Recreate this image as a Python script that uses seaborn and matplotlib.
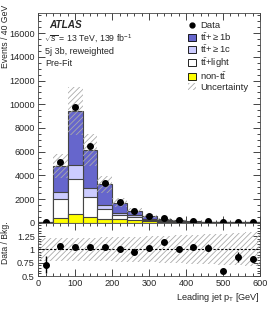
import numpy as np
import pandas as pd
import matplotlib
matplotlib.use("Agg")
import matplotlib.pyplot as plt
from matplotlib.patches import Patch
from matplotlib.lines import Line2D
from matplotlib.ticker import MultipleLocator, FixedLocator
import seaborn as sns

# ---------------- data ----------------
bin_edges = list(range(0, 640, 40))
bin_centers = [e + 20 for e in bin_edges[:-1]]

nontt = [5, 370, 720, 510, 350, 280, 210, 120, 70, 45, 35, 22, 17, 12, 10]
tt_light = [10, 1630, 2940, 1670, 790, 370, 280, 150, 85, 55, 40, 27, 20, 15, 12]
tt_1c = [5, 620, 1210, 720, 350, 190, 130, 70, 40, 25, 18, 12, 9, 7, 5]
tt_1b = [10, 2170, 4550, 3230, 1750, 860, 370, 220, 125, 85, 57, 39, 29, 21, 18]

ratio = [0.71, 1.062, 1.037, 1.05, 1.04, 1.01, 0.955, 1.018, 1.143, 1.0, 1.04, 1.03, 0.60, 0.86, 0.82]
ratio_err = [0.16, 0.01, 0.01, 0.012, 0.015, 0.02, 0.02, 0.025, 0.03, 0.04, 0.06, 0.07, 0.045, 0.09, 0.05]
rel_unc = [0.21, 0.21, 0.215, 0.22, 0.225, 0.23, 0.24, 0.245, 0.25, 0.26, 0.27, 0.28, 0.29, 0.30, 0.32]

labels = [r"$\mathrm{t\bar{t}}$+${\geq}$1b", r"$\mathrm{t\bar{t}}$+${\geq}$1c",
          r"$\mathrm{t\bar{t}}$+light", r"non-$\mathrm{t\bar{t}}$"]
colors = ["#6666cc", "#ccccff", "#ffffff", "#ffff00"]

# ---------------- style ----------------
sns.set_style("ticks")
plt.rcParams["font.family"] = ["Liberation Sans", "DejaVu Sans"]
plt.rcParams["mathtext.fontset"] = "custom"
plt.rcParams["mathtext.rm"] = "Liberation Sans"
plt.rcParams["mathtext.it"] = "Liberation Sans:italic"
plt.rcParams["mathtext.bf"] = "Liberation Sans:bold"
plt.rcParams["hatch.color"] = "#aaaaaa"
plt.rcParams["hatch.linewidth"] = 0.6

fs = 6.6
fig = plt.figure(figsize=(2.74, 3.09), dpi=100)
W, H = 274, 309
x0, x1 = 38.3, 260.0
y_top, y_mid, y_bot = 13.0, 222.7, 276.0
ax = fig.add_axes([x0 / W, 1 - y_mid / H, (x1 - x0) / W, (y_mid - y_top) / H])
axr = fig.add_axes([x0 / W, 1 - y_bot / H, (x1 - x0) / W, (y_bot - y_mid) / H], sharex=ax)

# ---------------- main panel ----------------
comps = np.array([tt_1b, tt_1c, tt_light, nontt], dtype=float)
cum = np.cumsum(comps[::-1], axis=0)[::-1]  # cum[0] = total, cum[3] = nontt
total = cum[0]
for k in range(4):
    df = pd.DataFrame({"pt": bin_centers, "events": cum[k]})
    sns.histplot(data=df, x="pt", weights="events", bins=bin_edges, ax=ax,
                 color=colors[k], alpha=1, edgecolor="#444444", linewidth=0.8,
                 element="bars", legend=False)

edges = np.array(bin_edges, dtype=float)
unc = np.array(rel_unc) * total
lo = np.append(total - unc, (total - unc)[-1])
hi = np.append(total + unc, (total + unc)[-1])
ax.fill_between(edges, lo, hi, step="post", facecolor="none",
                edgecolor="#aaaaaa", hatch="//////", linewidth=0)

data = np.array(ratio) * total
ax.errorbar(bin_centers, data, yerr=np.sqrt(data), fmt="o", color="black",
            markersize=4, elinewidth=1, capsize=0, clip_on=False, zorder=5)

ax.set_xlim(0, 600)
ax.set_ylim(0, 17700)
ax.yaxis.set_major_locator(MultipleLocator(2000))
ax.yaxis.set_minor_locator(MultipleLocator(500))
ax.xaxis.set_major_locator(MultipleLocator(100))
ax.xaxis.set_minor_locator(MultipleLocator(20))
ax.set_ylabel("")
ax.set_xlabel("")
plt.setp(ax.get_xticklabels(), visible=False)
fig.text(6 / W, 1 - 5 / H, "Events / 40 GeV", rotation=90, fontsize=6.2,
         va="top", ha="center")

for a in (ax, axr):
    a.tick_params(which="both", direction="in", top=True, right=True, labelsize=fs,
                  width=0.6, pad=2.5)
    a.tick_params(which="major", length=5)
    a.tick_params(which="minor", length=2.5)
    for s in a.spines.values():
        s.set_linewidth(0.6)
        s.set_color("#444444")

ax.text(49 / W, 1 - 25 / H, "ATLAS", transform=fig.transFigure, fontsize=7.2,
        fontweight="bold", fontstyle="italic", va="center")
ax.text(44 / W, 1 - 39 / H, r"$\sqrt{s}$ = 13 TeV, 139 fb$^{-1}$", transform=fig.transFigure,
        fontsize=6.3, va="center")
ax.text(45 / W, 1 - 52 / H, "5j 3b, reweighted", transform=fig.transFigure, fontsize=6.5, va="center")
ax.text(45 / W, 1 - 64 / H, "Pre-Fit", transform=fig.transFigure, fontsize=6.5, va="center")

handles = [Line2D([], [], marker="o", color="black", linestyle="none", markersize=3.5)]
for k in range(4):
    handles.append(Patch(facecolor=colors[k], edgecolor="black", linewidth=0.6))
handles.append(Patch(facecolor="none", edgecolor="#aaaaaa", hatch="//////", linewidth=0))
leg = ax.legend(handles, ["Data"] + labels + ["Uncertainty"], loc="upper left",
                bbox_to_anchor=(188 / W, 1 - 21 / H), bbox_transform=fig.transFigure,
                frameon=False, fontsize=6.8, handlelength=0.8, handleheight=0.75,
                handletextpad=0.45, labelspacing=0.08, borderpad=0, borderaxespad=0)

# ---------------- ratio panel ----------------
r_lo = np.append(1 - np.array(rel_unc), 1 - rel_unc[-1])
r_hi = np.append(1 + np.array(rel_unc), 1 + rel_unc[-1])
axr.fill_between(edges, r_lo, r_hi, step="post", facecolor="none",
                 edgecolor="#aaaaaa", hatch="//////", linewidth=0)
axr.axhline(1, color="black", linestyle=(0, (2, 1.5)), linewidth=0.8)
axr.errorbar(bin_centers, ratio, yerr=ratio_err, fmt="o", color="black",
             markersize=4, elinewidth=1, capsize=0, zorder=5)
axr.set_ylim(0.5, 1.5)
axr.yaxis.set_major_locator(FixedLocator([0.5, 0.75, 1.0, 1.25]))
axr.yaxis.set_minor_locator(MultipleLocator(0.05))
axr.set_yticklabels(["0.5", "0.75", "1", "1.25"])
axr.set_xlim(0, 600)
axr.set_xlabel(r"Leading jet p$_{\mathrm{T}}$ [GeV]", fontsize=fs, loc="right", labelpad=2)
axr.set_ylabel("")
fig.text(6 / W, 1 - 221 / H, "Data / Bkg.", rotation=90, fontsize=6.2, va="top", ha="center")

fig.savefig("out.png", dpi=100)
